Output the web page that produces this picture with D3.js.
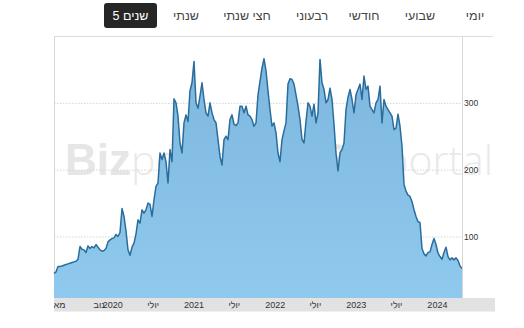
<!DOCTYPE html>
<html><head><meta charset="utf-8">
<script src="https://cdn.jsdelivr.net/npm/d3@7"></script>
<style>
html,body{margin:0;padding:0;background:#fff;}
svg{display:block;}
</style></head>
<body>
<svg id="c" width="524" height="328"></svg>
<script>
// ---- data ----
const tabs = ["יומי","שבועי","חודשי","רבעוני","חצי שנתי","שנתי"];
const activeTab = ["5","שנים"];
const startDate = "2019-04-14";
const stepDays = 9;
const prices = [
45,47,55,55,56,57,58,59,60,61,62,63,66,85,81,80,76,86,82,85,
83,88,84,80,78,79,82,92,95,97,98,103,100,106,142,130,108,80,72,84,
90,104,125,120,140,135,140,150,148,130,155,175,180,225,215,225,212,180,230,212,
306,300,280,240,225,270,282,272,318,330,362,300,292,310,330,305,285,280,300,285,
275,270,245,220,207,245,250,245,275,282,268,266,270,295,295,285,295,282,280,275,
265,270,312,332,352,366,348,318,290,265,270,255,225,212,245,258,270,328,336,335,
328,312,295,275,245,240,272,300,295,280,298,270,285,365,330,320,300,305,322,305,
268,225,198,225,230,240,290,308,320,305,285,312,320,328,305,340,320,325,295,290,
285,300,305,325,270,305,295,290,285,280,260,262,283,265,235,178,168,162,160,152,
140,130,122,121,82,74,71,76,77,88,97,88,75,70,66,76,84,70,65,68,
65,68,64,56,52
];
const yTicks = [100,200,300];
const xTickDates = ["2019-05-01","2019-11-01","2020-01-01","2020-07-01","2021-01-01","2021-07-01","2022-01-01","2022-07-01","2023-01-01","2023-07-01","2024-01-01"];
const monthNames = {5:"מאי",11:"נוב",7:"יולי"};

// ---- build ----
const parse = d3.utcParse("%Y-%m-%d");
const t0 = parse(startDate);
const data = prices.map((v,i)=>({d: d3.utcDay.offset(t0, i*stepDays), v}));

const L=54, R=462, T=36, B=298;
const svg = d3.select("#c");
const x = d3.scaleUtc().domain(d3.extent(data,d=>d.d)).range([L,R]);
const y = d3.scaleLinear().domain([8,400]).range([B,T]);
const FONT = "Liberation Sans, Arial, sans-serif";

// tabs
const tabX = [475,420,364,312,247,186];
svg.selectAll("text.tab").data(tabs).join("text")
  .attr("class","tab")
  .attr("x",(d,i)=>tabX[i]).attr("y",20)
  .attr("text-anchor","middle")
  .attr("font-family",FONT)
  .attr("font-size",12.5)
  .attr("fill","#444")
  .text(d=>d);
svg.append("rect").attr("x",104).attr("y",3).attr("width",53).attr("height",25).attr("rx",3).attr("fill","#262626");
svg.append("text").attr("x",112.5).attr("y",20).attr("font-family",FONT).attr("font-size",12.5).attr("fill","#fff").text(activeTab[0]);
svg.append("text").attr("x",123).attr("y",20).attr("font-family",FONT).attr("font-size",12.5).attr("fill","#fff").text(activeTab[1]);

// frame
svg.append("line").attr("x1",L).attr("x2",493).attr("y1",T+0.5).attr("y2",T+0.5).attr("stroke","#dcdcdc");
svg.append("line").attr("x1",L+0.5).attr("x2",L+0.5).attr("y1",T).attr("y2",B).attr("stroke","#d6d6d6");

// watermark
const wm = svg.append("g").attr("font-family",FONT);
[[65],[318]].forEach(([wx])=>{
  const t = wm.append("text").attr("x",wx).attr("y",175).attr("font-size",44);
  t.append("tspan").attr("font-weight","bold").attr("fill","#e6e6e6").text("Biz");
  t.append("tspan").attr("font-family","Open Sans, sans-serif").attr("font-weight",300).attr("fill","#e9e9e9").attr("font-size",41).text("portal");
});

// grid
svg.append("g").attr("transform",`translate(${L},0)`)
  .call(d3.axisLeft(y).tickValues(yTicks).tickSize(-(R-L)).tickFormat(""))
  .call(g=>g.select(".domain").remove())
  .call(g=>g.selectAll("line").attr("stroke","#d4d4d4").attr("stroke-dasharray","1.5,1.5"));

// area
const defs = svg.append("defs");
const grad = defs.append("linearGradient").attr("id","ag").attr("x1",0).attr("x2",0).attr("y1",0).attr("y2",1);
grad.append("stop").attr("offset","0%").attr("stop-color","#7db7df");
grad.append("stop").attr("offset","100%").attr("stop-color","#8fc9ed");
svg.append("path").datum(data)
  .attr("d", d3.area().x(d=>x(d.d)).y0(B).y1(d=>y(d.v)))
  .attr("fill","url(#ag)");
svg.append("path").datum(data)
  .attr("d", d3.line().x(d=>x(d.d)).y(d=>y(d.v)))
  .attr("fill","none").attr("stroke","#2a6d9c").attr("stroke-width",1.5).attr("stroke-linejoin","round");

// right axis line
svg.append("line").attr("x1",R+0.5).attr("x2",R+0.5).attr("y1",T).attr("y2",B).attr("stroke","#d6d6d6");

// y labels
svg.append("g").attr("transform",`translate(${R},0)`)
  .call(d3.axisRight(y).tickValues(yTicks).tickSize(0).tickPadding(2))
  .call(g=>g.select(".domain").remove())
  .call(g=>g.selectAll("text").attr("font-family",FONT).attr("font-size",8.5).attr("fill","#333"));

// x band
defs.append("clipPath").attr("id","xc").append("rect").attr("x",L).attr("y",B).attr("width",495-L).attr("height",14);
svg.append("rect").attr("x",L).attr("y",B).attr("width",495-L).attr("height",13.5).attr("fill","#e2e2e2");
const xt = xTickDates.map(parse);
svg.append("g").attr("clip-path","url(#xc)").append("g").attr("transform",`translate(0,${B})`)
  .call(d3.axisBottom(x).tickValues(xt).tickSize(0).tickPadding(4)
    .tickFormat(d=> d.getUTCMonth()===0 ? String(d.getUTCFullYear()) : monthNames[d.getUTCMonth()+1]))
  .call(g=>g.select(".domain").remove())
  .call(g=>g.selectAll("text").attr("font-family",FONT).attr("font-size",9).attr("fill","#333"));
</script>
</body></html>
